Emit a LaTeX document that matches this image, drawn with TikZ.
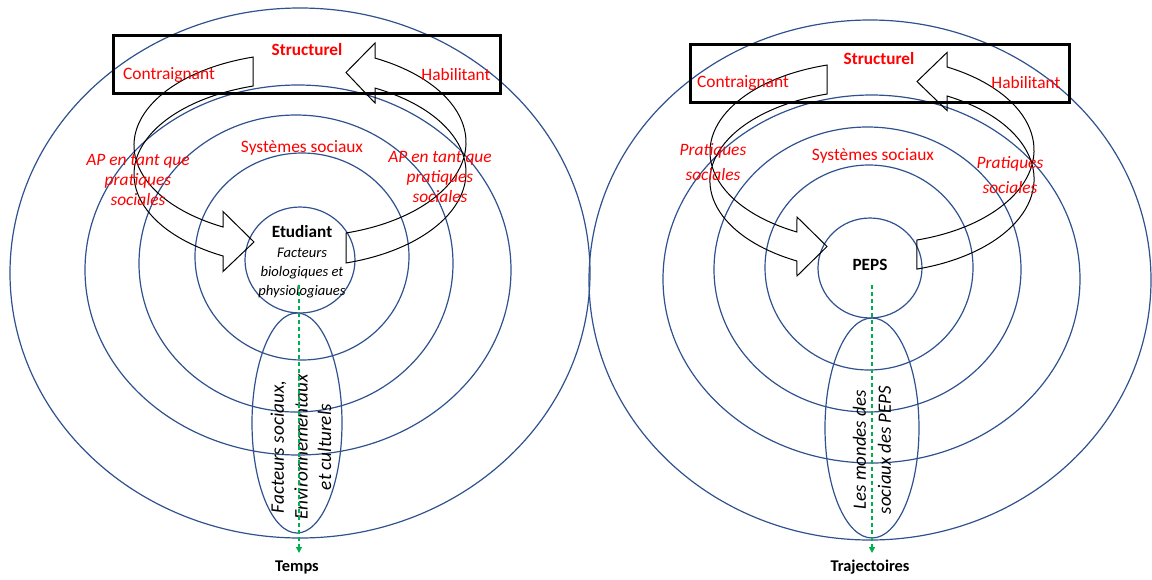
\documentclass[tikz,border=0pt]{standalone}
\usepackage{fontspec}
\setmainfont{Carlito}
\usepackage{tikz}
\usetikzlibrary{arrows.meta, positioning}
\definecolor{ringblue}{RGB}{47,82,143}
\definecolor{timegreen}{RGB}{0,176,80}
\definecolor{labelred}{RGB}{255,0,0}

\begin{document}
\begin{tikzpicture}[x=0.5pt, y=-0.5pt,
  ring/.style={draw=ringblue, line width=0.6pt},
  structbox/.style={draw=black, line width=1.5pt},
  bandarrow/.style={draw=black, line width=0.5pt, line join=miter},
  timeline/.style={draw=timegreen, line width=0.6pt, dash pattern=on 2pt off 1.5pt,
    -{Triangle[length=3pt, width=3pt]}},
  redlab/.style={text=labelred, inner sep=0pt, font=\fontsize{8.7}{10}\selectfont},
  redbold/.style={text=labelred, inner sep=0pt, font=\fontsize{8.6}{10}\selectfont\bfseries},
  redit/.style={text=labelred, inner sep=0pt, align=center, font=\fontsize{8.7}{10}\selectfont\itshape},
  redit2/.style={redit, font=\fontsize{8.7}{12.5}\selectfont\itshape},
  blacklab/.style={inner sep=0pt, font=\fontsize{8.6}{10}\selectfont\bfseries},
  smallit/.style={inner sep=0pt, align=center, font=\fontsize{7.3}{9.3}\selectfont\itshape},
  vertlab/.style={inner sep=0pt, align=center, rotate=90, font=\fontsize{9.6}{11.8}\selectfont\itshape}]

\useasboundingbox (0,0) rectangle (1152,579);

% ---- gauche : Etudiant ----
% anneaux
\draw[ring] (300,260) ellipse [x radius=55, y radius=53];
\draw[ring] (302,256.5) ellipse [x radius=107, y radius=103.5];
\draw[ring] (296,263.5) ellipse [x radius=157, y radius=148.5];
\draw[ring] (298,270) ellipse [x radius=213, y radius=185];
\draw[ring] (300,273) ellipse [x radius=290, y radius=265];
\draw[ring] (297,423) ellipse [x radius=45, y radius=110];

% cadre
\draw[structbox] (113,35) rectangle (500,93);

% fleches courbes
\draw[bandarrow] (300,145.4) ++(253.6:166 and 92.1)
  arc[start angle=253.6, end angle=117.6, x radius=166, y radius=92.1]
  -- (223,211.5) -- (254,242) -- (223,271.5) -- (223.1,256)
  arc[start angle=117.6, end angle=253.6, x radius=166, y radius=92.1] -- cycle;
\draw[bandarrow] (300,142.3) ++(73.9:166 and 94.4)
  arc[start angle=73.9, end angle=-63.1, x radius=166, y radius=94.4]
  -- (375,43) -- (346,72.5) -- (375,103) -- (375.1,88.1)
  arc[start angle=-63.1, end angle=73.9, x radius=166, y radius=94.4] -- cycle;

% textes
\node[redbold] (LStruct) at (307,50) {Structurel};
\node[redlab] (LContr) at (169,75) {Contraignant};
\node[redlab] (LHabil) at (456,75) {Habilitant};
\node[redlab] (LSys) at (302,148) {Systèmes sociaux};
\node[redit] (LAPl) at (138,180) {AP en tant que\\pratiques\\sociales};
\node[redit] (LAPr) at (440,177) {AP en tant que\\pratiques\\sociales};
\node[blacklab] (LEtud) at (302,232) {Etudiant};
\node[smallit] (LFact) at (302,273) {Facteurs\\biologiques et\\physiologiaues};
\node[vertlab] (LVert) at (301,447) {Facteurs sociaux,\\Environnementaux\\et culturels};
\node[blacklab, font=\fontsize{8.2}{10}\selectfont\bfseries] (LTemps) at (297,567) {Temps};

% axe du temps
\coordinate (Lt0) at (299,285);
\coordinate (Lt1) at (299,553);
\draw[timeline] (Lt0) -- (Lt1);

% ---- droite : PEPS ----
% anneaux
\draw[ring] (870,268) ellipse [x radius=52, y radius=50];
\draw[ring] (869,267.5) ellipse [x radius=104, y radius=102.5];
\draw[ring] (867.5,269.5) ellipse [x radius=153.5, y radius=142.5];
\draw[ring] (871.5,279) ellipse [x radius=208.5, y radius=184];
\draw[ring] (870,280) ellipse [x radius=281, y radius=260];
\draw[ring] (872,428) ellipse [x radius=47, y radius=110];

% cadre
\draw[structbox] (690,44) rectangle (1069,102);

% fleches courbes
\draw[bandarrow] (872,151.9) ++(253.9:162 and 90.4)
  arc[start angle=253.9, end angle=117.6, x radius=162, y radius=90.4]
  -- (797,217) -- (827,246.5) -- (797,276) -- (796.9,261)
  arc[start angle=117.6, end angle=253.9, x radius=162, y radius=90.4] -- cycle;
\draw[bandarrow] (872,150) ++(73.9:162 and 93.7)
  arc[start angle=73.9, end angle=-62.4, x radius=162, y radius=93.7]
  -- (947,52.5) -- (917,81.5) -- (947,110.5) -- (947.1,96)
  arc[start angle=-62.4, end angle=73.9, x radius=162, y radius=93.7] -- cycle;

% textes
\node[redbold] (RStruct) at (879,59) {Structurel};
\node[redlab] (RContr) at (743,83) {Contraignant};
\node[redlab] (RHabil) at (1026,83) {Habilitant};
\node[redlab] (RSys) at (873,156) {Systèmes sociaux};
\node[redit2] (RPratl) at (713,162.5) {Pratiques\\sociales};
\node[redit2] (RPratr) at (1010,175.5) {Pratiques\\sociales};
\node[blacklab] (RPeps) at (870,265) {PEPS};
\node[vertlab, font=\fontsize{9.4}{12.5}\selectfont\itshape] (RVert) at (872,450) {Les mondes des\\sociaux des PEPS};
\node[blacklab, font=\fontsize{8.2}{10}\selectfont\bfseries] (RTraj) at (870,567) {Trajectoires};

% axe des trajectoires
\coordinate (Rt0) at (872,285);
\coordinate (Rt1) at (872,553);
\draw[timeline] (Rt0) -- (Rt1);

\end{tikzpicture}
\end{document}
